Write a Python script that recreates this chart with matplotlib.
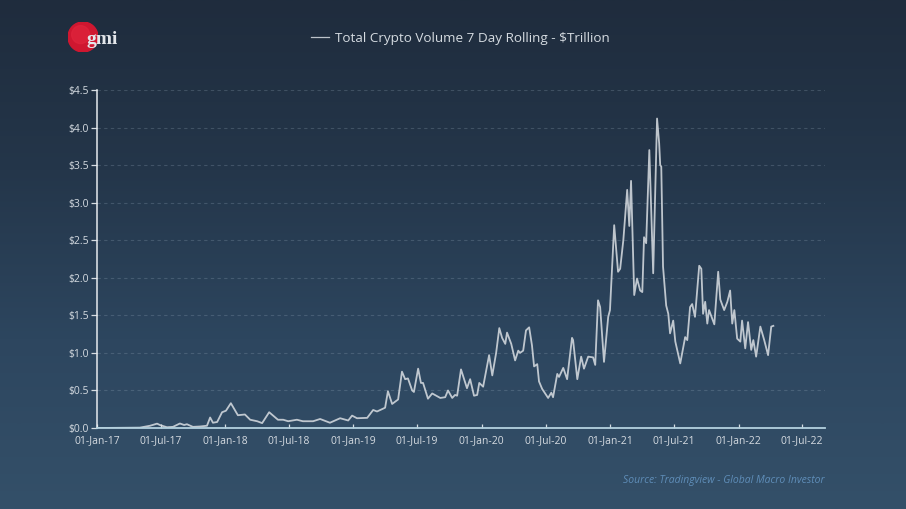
#!/usr/bin/env python3
"""Total crypto volume, 7 day rolling, in the GMI chart style."""

import matplotlib

matplotlib.use("Agg")

import matplotlib.dates as mdates
import matplotlib.pyplot as plt
import numpy as np
import pandas as pd
from matplotlib.colors import LinearSegmentedColormap
from matplotlib.patches import Circle

START_DATE = "2017-01-01"

days_since_start = [
    0, 122, 151, 171, 179, 199, 216, 236, 248, 256, 273, 293, 313, 322, 330, 342, 356, 367,
    381, 401, 421, 436, 456, 470, 490, 515, 530, 544, 569, 586, 615, 635, 663, 692, 715, 726,
    740, 769, 786, 797, 820, 828, 840, 857, 868, 877, 885, 897, 902, 914, 922, 928, 942, 954,
    977, 991, 999, 1011, 1019, 1025, 1036, 1053, 1062, 1073, 1082, 1088, 1099, 1116, 1125,
    1136, 1145, 1153, 1162, 1167, 1179, 1190, 1199, 1204, 1213, 1221, 1230, 1238, 1244, 1253,
    1258, 1267, 1284, 1293, 1298, 1310, 1315, 1327, 1338, 1352, 1355, 1367, 1378, 1386, 1398,
    1412, 1418, 1426, 1432, 1443, 1455, 1460, 1472, 1483, 1489, 1498, 1509, 1515, 1520, 1529,
    1537, 1546, 1552, 1557, 1563, 1572, 1583, 1594, 1600, 1603, 1606, 1611, 1620, 1626, 1631,
    1640, 1646, 1660, 1674, 1680, 1688, 1694, 1702, 1714, 1720, 1725, 1731, 1737, 1742, 1757,
    1768, 1774, 1785, 1794, 1802, 1808, 1814, 1822, 1831, 1836, 1845, 1853, 1862, 1868, 1876,
    1888, 1899, 1910, 1919, 1925,
]
volume_trillion = [
    0.0, 0.005, 0.03, 0.058, 0.04, 0.01, 0.015, 0.06, 0.04, 0.05, 0.015, 0.02, 0.03, 0.14,
    0.07, 0.08, 0.21, 0.23, 0.33, 0.17, 0.18, 0.11, 0.09, 0.065, 0.21, 0.11, 0.11, 0.09, 0.11,
    0.09, 0.09, 0.12, 0.07, 0.13, 0.10, 0.165, 0.13, 0.135, 0.24, 0.22, 0.27, 0.49, 0.32, 0.38,
    0.75, 0.65, 0.66, 0.5, 0.48, 0.79, 0.6, 0.6, 0.39, 0.46, 0.40, 0.41, 0.5, 0.4, 0.44, 0.43,
    0.78, 0.53, 0.65, 0.43, 0.44, 0.6, 0.55, 0.97, 0.7, 1.0, 1.33, 1.2, 1.12, 1.27, 1.12, 0.9,
    1.03, 1.0, 1.03, 1.3, 1.34, 1.1, 0.82, 0.85, 0.62, 0.52, 0.4, 0.47, 0.41, 0.72, 0.68, 0.8,
    0.65, 1.2, 1.17, 0.65, 0.95, 0.79, 0.95, 0.94, 0.84, 1.7, 1.61, 0.88, 1.48, 1.57, 2.7,
    2.08, 2.12, 2.5, 3.17, 2.69, 3.29, 1.77, 1.99, 1.83, 1.81, 2.54, 2.46, 3.7, 2.06, 4.12,
    3.79, 3.5, 3.48, 2.15, 1.63, 1.52, 1.26, 1.43, 1.15, 0.86, 1.21, 1.17, 1.61, 1.65, 1.48,
    2.16, 2.12, 1.52, 1.68, 1.39, 1.57, 1.38, 2.08, 1.71, 1.57, 1.68, 1.83, 1.39, 1.57, 1.19,
    1.15, 1.43, 1.06, 1.41, 1.04, 1.17, 0.95, 1.35, 1.17, 0.97, 1.35, 1.36,
]
y_ticks = [0.0, 0.5, 1.0, 1.5, 2.0, 2.5, 3.0, 3.5, 4.0, 4.5]
x_tick_dates = [
    "2017-01-01", "2017-07-01", "2018-01-01", "2018-07-01", "2019-01-01", "2019-07-01",
    "2020-01-01", "2020-07-01", "2021-01-01", "2021-07-01", "2022-01-01", "2022-07-01",
]

plt.rcParams["font.family"] = ["Open Sans", "DejaVu Sans"]

W, H = 906, 509
fig = plt.figure(figsize=(W / 100, H / 100), dpi=100)

# background gradient, dark at the top
bg = fig.add_axes([0, 0, 1, 1], zorder=0)
cmap = LinearSegmentedColormap.from_list("bg", ["#1f2c3d", "#24364a", "#2d465f", "#345069"])
bg.imshow(np.linspace(0, 1, 256)[:, None], aspect="auto", cmap=cmap)
bg.axis("off")

ax = fig.add_axes([97 / W, (H - 428) / H, (825 - 97) / W, (428 - 90) / H], zorder=1)
ax.patch.set_alpha(0)

dates = pd.Timestamp(START_DATE) + pd.to_timedelta(days_since_start, unit="D")
line, = ax.plot(dates, volume_trillion, color="#d9dee3", linewidth=1.3, alpha=0.85,
                solid_joinstyle="round", label="Total Crypto Volume 7 Day Rolling - $Trillion")

ax.set_xlim(pd.Timestamp(START_DATE), pd.Timestamp("2022-09-04"))
ax.set_ylim(0, 4.5)
ax.set_yticks(y_ticks)
ax.set_yticklabels([f"${v:.1f}" for v in y_ticks])
ax.set_xticks(pd.to_datetime(x_tick_dates))
ax.xaxis.set_major_formatter(mdates.DateFormatter("%d-%b-%y"))

ax.tick_params(axis="y", colors="#d5dbe1", labelsize=7.5, length=4, width=0.9, pad=2)
ax.tick_params(axis="x", colors="#d5dbe1", labelsize=7.5, length=3, width=0.9, direction="in", pad=5)
ax.grid(axis="y", color="#8fa3b5", alpha=0.28, linewidth=0.8, linestyle=(0, (3, 3)))
ax.set_axisbelow(True)

for side in ["top", "right"]:
    ax.spines[side].set_visible(False)
ax.spines["left"].set_color("#e6eaee")
ax.spines["left"].set_linewidth(1.1)
ax.spines["bottom"].set_color("#b4d2df")
ax.spines["bottom"].set_linewidth(1.3)

leg = fig.legend(handles=[line], loc="center", bbox_to_anchor=(460.5 / W, (H - 38.5) / H), frameon=False,
                 fontsize=9.7, labelcolor="#d5dbe1", handlelength=1.3, handletextpad=0.45)
leg.get_lines()[0].set_linewidth(0.9)

fig.text(825 / W, (H - 480) / H, "Source: Tradingview - Global Macro Investor", ha="right",
         va="center", style="italic", fontsize=7.5, color="#5f8db8")

# logo
logo = fig.add_axes([68 / W, (H - 52) / H, 30 / W, 30 / H], zorder=2)
logo.set_xlim(0, 1)
logo.set_ylim(0, 1)
logo.axis("off")
logo.add_patch(Circle((0.5, 0.5), 0.5, color="#cf1730"))
logo.add_patch(Circle((0.42, 0.58), 0.3, color="#e0243c", alpha=0.7))
fig.text(102 / W, (H - 39) / H, "gmi", ha="center", va="center", family="Liberation Serif",
         fontsize=14, fontweight="bold", color="#e3e6ea", zorder=3)

fig.savefig("out.png", dpi=100)
